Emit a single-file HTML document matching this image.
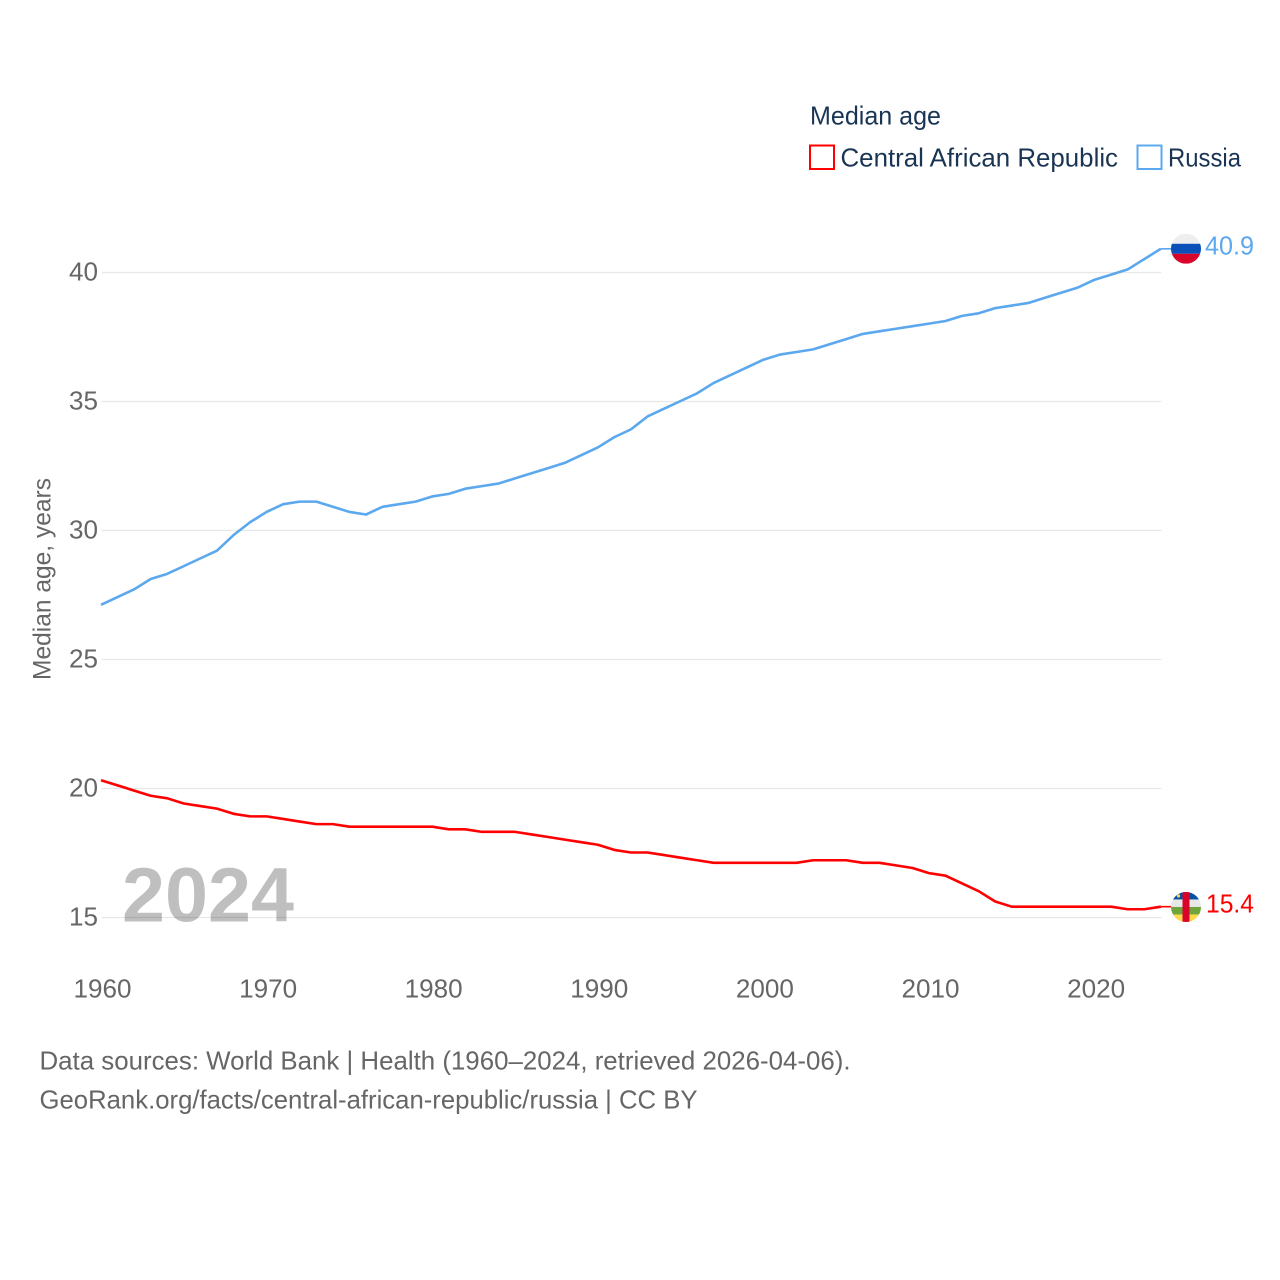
<!DOCTYPE html>
<html>
<head>
<meta charset="utf-8">
<style>
html,body{margin:0;padding:0;background:#fff;}
svg{display:block;}
text{font-family:"Liberation Sans",sans-serif;}
</style>
</head>
<body>
<svg id="chart" width="1280" height="1280" viewBox="0 0 1280 1280" xmlns="http://www.w3.org/2000/svg">
  <rect width="1280" height="1280" fill="#fff"/>
  <g id="grid"></g>
  <g id="yticks"></g>
  <g id="xticks"></g>
  <text transform="translate(50.500,680) rotate(-90)" font-size="25" fill="#666" textLength="202" lengthAdjust="spacingAndGlyphs">Median age, years</text>
  <text x="122" y="921.500" font-size="77" font-weight="bold" fill="#000" fill-opacity="0.25" textLength="172" lengthAdjust="spacingAndGlyphs">2024</text>
  <g id="series"></g>

  <defs>
    <clipPath id="clip-ru"><circle id="clip-ru-c" cx="1186" cy="248" r="15"/></clipPath>
    <clipPath id="clip-cf"><circle id="clip-cf-c" cx="1186" cy="906" r="15"/></clipPath>
  </defs>
  <g id="flag-russia" clip-path="url(#clip-ru)"></g>
  <g id="flag-car" clip-path="url(#clip-cf)"></g>
  <g id="end-labels"></g>

  <g>
    <text x="810" y="124.500" font-size="26" fill="#1a3554" textLength="131" lengthAdjust="spacingAndGlyphs">Median age</text>
    <rect x="810" y="145.500" width="24" height="23.500" fill="#fff" stroke="#ff0000" stroke-width="2"/>
    <text x="840.500" y="166.500" font-size="26" fill="#1a3554" textLength="277.500" lengthAdjust="spacingAndGlyphs">Central African Republic</text>
    <rect x="1137.500" y="145.500" width="24" height="23.500" fill="#fff" stroke="#5ca8ee" stroke-width="2"/>
    <text x="1168" y="166.500" font-size="26" fill="#1a3554" textLength="73" lengthAdjust="spacingAndGlyphs">Russia</text>
  </g>

  <g>
    <text x="39.500" y="1069.500" font-size="26" fill="#666" textLength="811" lengthAdjust="spacingAndGlyphs">Data sources: World Bank | Health (1960–2024, retrieved 2026-04-06).</text>
    <text x="39.500" y="1108.500" font-size="26" fill="#666" textLength="658" lengthAdjust="spacingAndGlyphs">GeoRank.org/facts/central-african-republic/russia | CC BY</text>
  </g>
</svg>
<script>
const startYear = 1960;
const yTickValues = [15, 20, 25, 30, 35, 40];
const yTickLabels = ["15", "20", "25", "30", "35", "40"];
const xTickValues = [1960, 1970, 1980, 1990, 2000, 2010, 2020];
const xTickLabels = ["1960", "1970", "1980", "1990", "2000", "2010", "2020"];
const russiaValues = [27.1,27.4,27.7,28.1,28.3,28.6,28.9,29.2,29.8,30.3,30.7,31.0,31.1,31.1,30.9,30.7,30.6,30.9,31.0,31.1,31.3,31.4,31.6,31.7,31.8,32.0,32.2,32.4,32.6,32.9,33.2,33.6,33.9,34.4,34.7,35.0,35.3,35.7,36.0,36.3,36.6,36.8,36.9,37.0,37.2,37.4,37.6,37.7,37.8,37.9,38.0,38.1,38.3,38.4,38.6,38.7,38.8,39.0,39.2,39.4,39.7,39.9,40.1,40.5,40.9];
const carValues = [20.3,20.1,19.9,19.7,19.6,19.4,19.3,19.2,19.0,18.9,18.9,18.8,18.7,18.6,18.6,18.5,18.5,18.5,18.5,18.5,18.5,18.4,18.4,18.3,18.3,18.3,18.2,18.1,18.0,17.9,17.8,17.6,17.5,17.5,17.4,17.3,17.2,17.1,17.1,17.1,17.1,17.1,17.1,17.2,17.2,17.2,17.1,17.1,17.0,16.9,16.7,16.6,16.3,16.0,15.6,15.4,15.4,15.4,15.4,15.4,15.4,15.4,15.3,15.3,15.4];

const NS = "http://www.w3.org/2000/svg";
function xScale(year) { return 101 + (year - 1960) * 16.56; }
function yScale(v) { return 917.5 - (v - 15) * 25.8; }
function lineY(v) { return yScale(v) - 0.5; }
function mk(tag, attrs, parent, text) {
  const el = document.createElementNS(NS, tag);
  for (const k in attrs) el.setAttribute(k, attrs[k]);
  if (text !== undefined) el.textContent = text;
  parent.appendChild(el);
  return el;
}
const gridG = document.getElementById("grid");
const yG = document.getElementById("yticks");
const xG = document.getElementById("xticks");
const seriesG = document.getElementById("series");
const endG = document.getElementById("end-labels");

yTickValues.forEach(function (v, i) {
  const line = mk("line", {x1: 101.5, x2: 1161.5, y1: yScale(v), y2: yScale(v), stroke: "#e8e8e8", "stroke-width": 1.2}, gridG);
  
  
  const t = mk("text", {x: 98, y: yScale(v) + 8, "text-anchor": "end", "font-size": 25.5, fill: "#666", textLength: 29, lengthAdjust: "spacingAndGlyphs"}, yG, yTickLabels[i]);
  
  
});
xTickValues.forEach(function (v, i) {
  const t = mk("text", {x: xScale(v) + 1.5, y: 997.5, "text-anchor": "middle", "font-size": 25.5, fill: "#666", textLength: 58, lengthAdjust: "spacingAndGlyphs"}, xG, xTickLabels[i]);
  
  
});

function seriesPath(values) {
  let d = "";
  values.forEach(function (v, i) {
    d += (i ? "L" : "M") + xScale(startYear + i).toFixed(2) + " " + lineY(v).toFixed(2);
  });
  return d;
}
function stubPath(values) {
  const last = values.length - 1;
  return "M" + xScale(startYear + last).toFixed(2) + " " + lineY(values[last]).toFixed(2) +
         "L" + xScale(startYear + last + 1).toFixed(2) + " " + lineY(values[last]).toFixed(2);
}
const carLine = mk("path", {d: seriesPath(carValues), fill: "none", stroke: "#ff0000", "stroke-width": 2.6, "stroke-linejoin": "round"}, seriesG);


const carStub = mk("path", {d: stubPath(carValues), fill: "none", stroke: "#ff0000", "stroke-width": 1.6}, seriesG);


const ruLine = mk("path", {d: seriesPath(russiaValues), fill: "none", stroke: "#5ca8ee", "stroke-width": 2.6, "stroke-linejoin": "round"}, seriesG);


const ruStub = mk("path", {d: stubPath(russiaValues), fill: "none", stroke: "#5ca8ee", "stroke-width": 1.6}, seriesG);



const ruLast = russiaValues[russiaValues.length - 1];
const carLast = carValues[carValues.length - 1];
const ruY = yScale(ruLast) - 0.5;
const carY = yScale(carLast) - 0.2;
const cx = 1186;
document.getElementById("clip-ru-c").setAttribute("cy", ruY);
document.getElementById("clip-cf-c").setAttribute("cy", carY);

const fr = document.getElementById("flag-russia");
mk("rect", {x: cx - 15, y: ruY - 15, width: 30, height: 10, fill: "#eeeeee"}, fr);
mk("rect", {x: cx - 15, y: ruY - 5, width: 30, height: 10, fill: "#0a50b8"}, fr);
mk("rect", {x: cx - 15, y: ruY + 5, width: 30, height: 10, fill: "#d90429"}, fr);

const fc = document.getElementById("flag-car");
mk("rect", {x: cx - 15, y: carY - 15, width: 30, height: 7.5, fill: "#0a50a0"}, fc);
mk("rect", {x: cx - 15, y: carY - 7.5, width: 30, height: 7.5, fill: "#e8e8e8"}, fc);
mk("rect", {x: cx - 15, y: carY, width: 30, height: 7.5, fill: "#6fa53c"}, fc);
mk("rect", {x: cx - 15, y: carY + 7.5, width: 30, height: 7.5, fill: "#fbd84e"}, fc);
mk("rect", {x: cx - 3.5, y: carY - 15, width: 7, height: 30, fill: "#d90429"}, fc);
mk("circle", {cx: cx - 7.5, cy: carY - 11, r: 1.6, fill: "#fbd84e"}, fc);

const ruLabel = mk("text", {x: 1205, y: ruY + 5.5, "font-size": 25.5, fill: "#5ca8ee", textLength: 49, lengthAdjust: "spacingAndGlyphs"}, endG, ruLast.toFixed(1));


const carLabel = mk("text", {x: 1206, y: carY + 5.5, "font-size": 25.5, fill: "#ff0000", textLength: 48, lengthAdjust: "spacingAndGlyphs"}, endG, carLast.toFixed(1));


</script>
</body>
</html>
